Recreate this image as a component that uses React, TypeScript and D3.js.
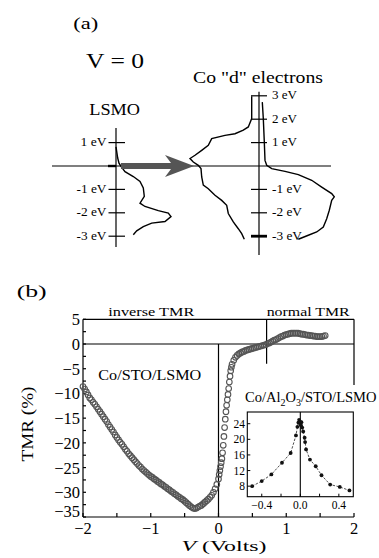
import * as d3 from 'd3';

const FONT = "'Liberation Serif', 'Times New Roman', serif";

// ---- panel (a): density of states, [energy (eV), DOS (arb.)]
const LSMO_DOS: [number, number][] = [
  [0.82, 0], [0.34, 0.17], [0.12, 0.3], [-0.02, 0.5], [-0.24, 0.9], [-0.45, 1.73],
  [-0.66, 2.4], [-0.94, 2.73], [-1.3, 2.83], [-1.59, 2.4], [-1.73, 2.9], [-1.91, 4.23],
  [-2.01, 5.23], [-2.16, 5.5], [-2.37, 4.9], [-2.44, 3.57], [-2.59, 2.73], [-2.77, 2.07],
  [-2.94, 1.73],
];
const CO_UP: [number, number][] = [
  [2.98, -0.73], [2.03, -0.73], [1.67, -1.07], [1.53, -1.57], [1.38, -2.4], [1.31, -3.4],
  [1.17, -4.73], [0.88, -5.07], [0.67, -5.73], [0.46, -6.4], [0.32, -6.9], [0.17, -6.57],
  [0.03, -6.07], [-0.11, -5.8], [-0.47, -5.73], [-0.82, -5.57], [-0.97, -5.07], [-1.25, -4.4],
  [-1.47, -3.73], [-1.68, -3.23], [-2.03, -3.07], [-2.39, -2.57], [-2.68, -2.07], [-2.89, -1.73],
  [-3.13, -1.47],
];
const CO_DOWN: [number, number][] = [
  [2.73, 0.33], [2.03, 0.43], [1.03, 0.53], [0.24, 0.6], [0.03, 0.77], [-0.11, 1.27],
  [-0.23, 2.6], [-0.37, 3.93], [-0.61, 5.27], [-0.9, 6.27], [-1.18, 7.27], [-1.32, 7.53],
  [-1.47, 7.27], [-1.89, 7.03], [-2.25, 6.77], [-2.61, 6.43], [-2.82, 5.77], [-2.96, 4.93],
  [-3.13, 3.93],
];
const LSMO_TICKS = [1, -1, -2, -3];
const CO_TICKS = [3, 2, 1, -1, -2, -3];

// ---- panel (b): TMR vs bias, [V, TMR %]
const TMR_CURVE: [number, number][] = [
  [-2.0, -8.6], [-1.975, -9.1], [-1.95, -9.7], [-1.925, -10.3], [-1.9, -10.9], [-1.875, -11.3],
  [-1.85, -11.8], [-1.825, -12.2], [-1.8, -12.7], [-1.775, -13.2], [-1.75, -13.7], [-1.725, -14.2],
  [-1.7, -14.7], [-1.675, -15.2], [-1.65, -15.7], [-1.625, -16.3], [-1.6, -16.8], [-1.575, -17.3],
  [-1.55, -17.8], [-1.525, -18.4], [-1.5, -18.9], [-1.475, -19.4], [-1.45, -19.9], [-1.425, -20.3],
  [-1.4, -20.8], [-1.375, -21.3], [-1.35, -21.7], [-1.325, -22.2], [-1.3, -22.6], [-1.275, -23.0],
  [-1.25, -23.4], [-1.225, -23.8], [-1.2, -24.2], [-1.175, -24.6], [-1.15, -24.9], [-1.125, -25.3],
  [-1.1, -25.6], [-1.075, -25.9], [-1.05, -26.2], [-1.025, -26.5], [-1.0, -26.8], [-0.975, -27.0],
  [-0.95, -27.3], [-0.925, -27.5], [-0.9, -27.8], [-0.875, -28.0], [-0.85, -28.3], [-0.825, -28.5],
  [-0.8, -28.8], [-0.775, -29.0], [-0.75, -29.3], [-0.725, -29.5], [-0.7, -29.8], [-0.675, -30.0],
  [-0.65, -30.3], [-0.625, -30.5], [-0.6, -30.8], [-0.575, -31.0], [-0.55, -31.3], [-0.525, -31.5],
  [-0.5, -31.8], [-0.475, -32.1], [-0.45, -32.4], [-0.425, -32.7], [-0.4, -33.0], [-0.375, -33.2],
  [-0.35, -33.3], [-0.325, -33.2], [-0.3, -33.0], [-0.275, -32.8], [-0.25, -32.6], [-0.225, -32.3],
  [-0.2, -32.0], [-0.175, -31.7], [-0.15, -31.4], [-0.125, -31.0], [-0.1, -30.6], [-0.075, -30.0],
  [-0.05, -29.3], [-0.025, -28.4], [0.0, -27.3], [0.01, -26.4], [0.02, -25.6], [0.03, -24.8],
  [0.04, -24.0], [0.05, -23.2], [0.06, -22.0], [0.07, -20.5], [0.08, -18.7], [0.09, -16.9],
  [0.1, -15.2], [0.11, -13.7], [0.12, -12.4], [0.13, -11.3], [0.14, -10.2], [0.15, -9.0],
  [0.16, -7.7], [0.17, -6.5], [0.18, -5.4], [0.19, -4.7], [0.2, -4.1], [0.225, -3.3],
  [0.25, -2.7], [0.275, -2.3], [0.3, -2.0], [0.325, -1.8], [0.35, -1.6], [0.375, -1.5],
  [0.4, -1.3], [0.425, -1.2], [0.45, -1.1], [0.475, -1.0], [0.5, -0.9], [0.525, -0.8],
  [0.55, -0.7], [0.575, -0.6], [0.6, -0.5], [0.625, -0.4], [0.65, -0.3], [0.675, -0.2],
  [0.7, -0.1], [0.725, 0.1], [0.75, 0.2], [0.775, 0.4], [0.8, 0.6], [0.825, 0.8],
  [0.85, 0.9], [0.875, 1.1], [0.9, 1.3], [0.925, 1.5], [0.95, 1.6], [0.975, 1.8],
  [1.0, 1.9], [1.025, 2.0], [1.05, 2.1], [1.075, 2.2], [1.1, 2.2], [1.125, 2.2],
  [1.15, 2.2], [1.175, 2.2], [1.2, 2.1], [1.225, 2.0], [1.25, 2.0], [1.275, 1.9],
  [1.3, 1.8], [1.325, 1.8], [1.35, 1.7], [1.375, 1.7], [1.4, 1.6], [1.425, 1.6],
  [1.45, 1.5], [1.475, 1.5], [1.5, 1.5], [1.525, 1.5], [1.55, 1.6], [1.575, 1.7],
];
const INSET_POINTS: [number, number][] = [
  [-0.5, 8.0], [-0.4, 9.3], [-0.3, 11.0], [-0.19, 14.0], [-0.1, 16.5], [-0.045, 21.0],
  [-0.03, 23.2], [-0.02, 24.3], [-0.012, 25.0], [-0.005, 24.6], [0.0, 24.0], [0.006, 23.6],
  [0.012, 24.4], [0.02, 23.0], [0.03, 22.0], [0.045, 20.4], [0.05, 19.3], [0.06, 17.4],
  [0.1, 14.8], [0.16, 13.1], [0.22, 10.8], [0.31, 8.4], [0.41, 7.8], [0.51, 6.9],
];
const X_TICKS = [-2, -1, 0, 1, 2];
const Y_TICKS = [5, 0, -5, -10, -15, -20, -25, -30, -35];
const INSET_X_TICKS = [-0.4, 0, 0.4];
const INSET_Y_TICKS = [8, 12, 16, 20, 24];

const minus = (s: string) => s.replace('-', '\u2212');

function Label({ x, y, w, size, anchor = 'start', children }: any) {
  return (
    <text x={x} y={y} fontSize={size} textAnchor={anchor} textLength={w}
      lengthAdjust="spacingAndGlyphs" fill="#000">
      {children}
    </text>
  );
}

export default function App() {
  // panel (a) scales
  const yE = d3.scaleLinear().domain([-3, 3]).range([236.2, 95.8]);
  const lsmoX = d3.scaleLinear().domain([0, 1]).range([116, 126]);
  const coX = d3.scaleLinear().domain([0, 1]).range([259, 269]);
  const lsmoLine = d3.line<[number, number]>().x((d) => lsmoX(d[1])).y((d) => yE(d[0]));
  const coLine = d3.line<[number, number]>().x((d) => coX(d[1])).y((d) => yE(d[0]));

  // panel (b) scales
  const x = d3.scaleLinear().domain([-2, 2]).range([83, 354]);
  const y = d3.scaleLinear().domain([-35, 5]).range([517, 319.3]);
  const ix = d3.scaleLinear().domain([-0.55, 0.55]).range([247.3, 353.3]);
  const iy = d3.scaleLinear().domain([5.3, 27]).range([496.7, 412]);
  const insetLine = d3.line<[number, number]>().x((d) => ix(d[0])).y((d) => iy(d[1]));

  const minorY = d3.range(-35, 5.01, 2.5);
  const minorX = d3.range(-2, 2.01, 0.5);
  const insetMinorX = d3.range(-0.4, 0.41, 0.2);

  return (
    <svg width={379} height={558} style={{ position: 'absolute', left: 0, top: 0, background: '#fff' }}
      fontFamily={FONT}>
      {/* ---------- (a) ---------- */}
      <Label x={73.3} y={28.5} w={25} size={17}>(a)</Label>
      <Label x={86} y={68.3} w={58} size={21}>V = 0</Label>
      <Label x={193} y={83.3} w={130} size={17.5}>Co "d" electrons</Label>
      <Label x={89.3} y={115} w={50.7} size={17.5}>LSMO</Label>

      <g stroke="#000" strokeWidth={1.2} fill="none">
        <line x1={52} x2={331} y1={yE(0)} y2={yE(0)} />
        <line x1={lsmoX(0)} x2={lsmoX(0)} y1={128} y2={247} />
        <line x1={coX(0)} x2={coX(0)} y1={91.7} y2={255} />
        <line x1={108} x2={lsmoX(0)} y1={yE(0)} y2={yE(0)} strokeWidth={2.4} />
        {LSMO_TICKS.map((t) => (
          <line key={'l' + t} x1={108.5} x2={125} y1={yE(t)} y2={yE(t)} />
        ))}
        {CO_TICKS.map((t) => (
          <line key={'c' + t} x1={251} x2={267} y1={yE(t)} y2={yE(t)} strokeWidth={t === -3 ? 2.8 : 1.2} />
        ))}
      </g>
      {LSMO_TICKS.map((t) => (
        <Label key={'ll' + t} x={106.5} y={yE(t) + 3.5} w={t > 0 ? 26 : 30} size={11.5} anchor="end">
          {`${t} eV`}
        </Label>
      ))}
      {CO_TICKS.map((t) => (
        <Label key={'cl' + t} x={272} y={yE(t) + 3.5} w={t > 0 ? 25 : 30} size={11.5}>
          {`${t} eV`}
        </Label>
      ))}

      <path d={lsmoLine(LSMO_DOS) || ''} fill="none" stroke="#000" strokeWidth={1.4} />
      <path d={coLine(CO_UP) || ''} fill="none" stroke="#000" strokeWidth={1.4} />
      <path d={coLine(CO_DOWN) || ''} fill="none" stroke="#000" strokeWidth={1.4} />

      {/* tunnelling arrow */}
      <path
        d={`M121,${yE(0) - 3} L171,${yE(0) - 3} L165,${yE(0) - 11} L194,${yE(0)} L165,${yE(0) + 11} L171,${yE(0) + 3} L121,${yE(0) + 3} Z`}
        fill="#555" />

      {/* ---------- (b) ---------- */}
      <Label x={16.7} y={297} w={30} size={17}>(b)</Label>
      <Label x={108.3} y={316} w={86} size={13.5}>inverse TMR</Label>
      <Label x={266.7} y={316} w={83} size={13.5}>normal TMR</Label>

      <g stroke="#000" strokeWidth={1.2} fill="none">
        <line x1={x(-2)} x2={x(2)} y1={y(5)} y2={y(5)} />
        <line x1={x(-2)} x2={x(2)} y1={y(-35)} y2={y(-35)} />
        <line x1={x(-2)} x2={x(-2)} y1={y(5)} y2={y(-35)} />
        <line x1={x(2)} x2={x(2)} y1={y(5)} y2={385} />
        <line x1={x(-2)} x2={x(2)} y1={y(0)} y2={y(0)} />
        <line x1={x(0)} x2={x(0)} y1={y(0)} y2={y(-35)} />
        <line x1={x(0.71)} x2={x(0.71)} y1={y(5)} y2={y(-4)} />
        {minorY.map((t) => (
          <line key={'my' + t} x1={x(-2)} x2={x(-2) + 3} y1={y(t)} y2={y(t)} />
        ))}
        {minorX.map((t) => (
          <line key={'mx' + t} x1={x(t)} x2={x(t)} y1={y(-35)} y2={y(-35) - 4} />
        ))}
      </g>

      {Y_TICKS.map((t) => (
        <text key={'yt' + t} x={80} y={y(t) + (t === -35 ? 0 : 6)} fontSize={16.5} textAnchor="end">
          {minus(String(t))}
        </text>
      ))}
      {X_TICKS.map((t) => (
        <text key={'xt' + t} x={x(t)} y={534} fontSize={16.5} textAnchor="middle">{minus(String(t))}</text>
      ))}
      <text transform="translate(33,424) rotate(-90)" fontSize={17.5} textAnchor="middle"
        textLength={75} lengthAdjust="spacingAndGlyphs">TMR (%)</text>
      <text x={224} y={551} fontSize={15.5} textAnchor="middle" textLength={85} lengthAdjust="spacingAndGlyphs">
        <tspan fontStyle="italic">V</tspan> (Volts)
      </text>

      <Label x={98.3} y={380} w={103} size={15}>Co/STO/LSMO</Label>

      {/* main data: open circles */}
      <g fill="none" stroke="#555" strokeWidth={1.1}>
        {TMR_CURVE.map((d, i) => (
          <circle key={'c' + i} cx={x(d[0])} cy={y(d[1])} r={2.8} />
        ))}
      </g>

      {/* inset */}
      <text x={245} y={402} fontSize={14.5}>
        Co/Al<tspan dy={4} fontSize={10}>2</tspan><tspan dy={-4}>O</tspan>
        <tspan dy={4} fontSize={10}>3</tspan><tspan dy={-4}>/STO/LSMO</tspan>
      </text>
      <rect x={ix(-0.55)} y={iy(27)} width={ix(0.55) - ix(-0.55)} height={iy(5.3) - iy(27)}
        fill="#fff" stroke="#000" strokeWidth={1.1} />
      <line x1={ix(0)} x2={ix(0)} y1={iy(27)} y2={iy(5.3)} stroke="#000" strokeWidth={1.1} />
      <g stroke="#000" strokeWidth={1}>
        {INSET_Y_TICKS.map((t) => (
          <line key={'iyt' + t} x1={ix(-0.55)} x2={ix(-0.55) + 3} y1={iy(t)} y2={iy(t)} />
        ))}
        {insetMinorX.map((t) => (
          <line key={'ixt' + t} x1={ix(t)} x2={ix(t)} y1={iy(5.3)} y2={iy(5.3) - 3} />
        ))}
      </g>
      {INSET_Y_TICKS.map((t) => (
        <text key={'iyl' + t} x={245} y={iy(t) + 4} fontSize={11.5} textAnchor="end">{t}</text>
      ))}
      {INSET_X_TICKS.map((t) => (
        <text key={'ixl' + t} x={ix(t)} y={508.5} fontSize={11.5} textAnchor="middle">
          {minus(t.toFixed(1))}
        </text>
      ))}
      <path d={insetLine(INSET_POINTS) || ''} fill="none" stroke="#222" strokeWidth={0.8} strokeDasharray="2.5,1.5" />
      {INSET_POINTS.map((d, i) => (
        <circle key={'ip' + i} cx={ix(d[0])} cy={iy(d[1])} r={1.9} fill="#111" />
      ))}
    </svg>
  );
}
